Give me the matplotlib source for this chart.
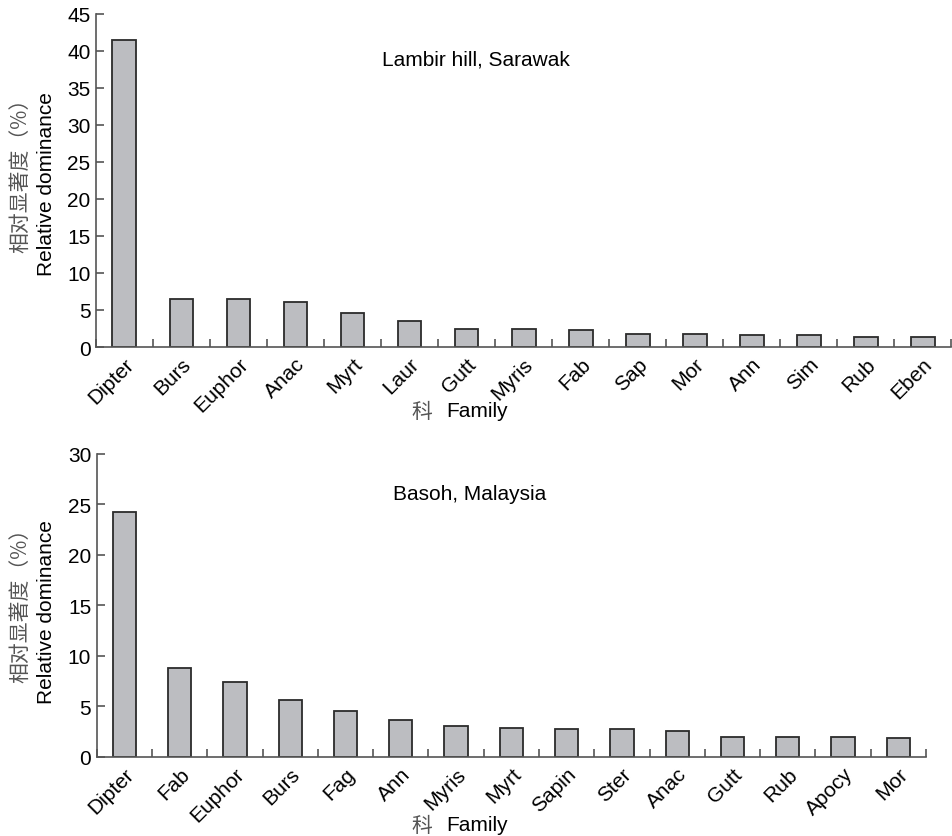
import matplotlib
matplotlib.use("Agg")
import matplotlib.pyplot as plt
import numpy as np

plt.rcParams['font.family'] = ['Liberation Sans', 'Noto Sans CJK SC']

# Lambir hill, Sarawak
lambir_families = ['Dipter', 'Burs', 'Euphor', 'Anac', 'Myrt', 'Laur', 'Gutt', 'Myris',
                   'Fab', 'Sap', 'Mor', 'Ann', 'Sim', 'Rub', 'Eben']
lambir_values = [41.5, 6.5, 6.5, 6.1, 4.6, 3.5, 2.4, 2.4, 2.25, 1.8, 1.8, 1.6, 1.6, 1.35, 1.35]

# Basoh, Malaysia
basoh_families = ['Dipter', 'Fab', 'Euphor', 'Burs', 'Fag', 'Ann', 'Myris', 'Myrt',
                  'Sapin', 'Ster', 'Anac', 'Gutt', 'Rub', 'Apocy', 'Mor']
basoh_values = [24.3, 8.85, 7.45, 5.65, 4.6, 3.65, 3.05, 2.9, 2.75, 2.75, 2.6, 2.0, 2.0, 2.0, 1.85]

BAR_FACE = '#bcbdc1'
BAR_EDGE = '#2b2b2b'
AXIS_COLOR = '#555555'
CJK_COLOR = '#555555'
FS = 15

fig = plt.figure(figsize=(9.53, 8.37), dpi=100)


def draw_panel(rect, families, values, ymax, title, title_pos):
    ax = fig.add_axes(rect)
    x = np.arange(len(families)) + 0.5
    ax.bar(x, values, width=0.42, color=BAR_FACE, edgecolor=BAR_EDGE, linewidth=1.3)
    ax.set_xlim(0, len(families))
    ax.set_ylim(0, ymax)
    ax.set_yticks(np.arange(0, ymax + 1, 5))
    ax.set_xticks(np.arange(0, len(families) + 1))
    ax.set_xticklabels([])
    ax.set_xticks(x, minor=True)
    ax.set_xticklabels(families, minor=True, rotation=45, ha='right', va='top',
                       rotation_mode='anchor', fontsize=FS)
    ax.tick_params(axis='x', which='minor', length=0, pad=5)
    ax.tick_params(axis='x', which='major', direction='in', length=6, width=1.2,
                   color=AXIS_COLOR)
    ax.tick_params(axis='y', direction='in', length=6, width=1.2, color=AXIS_COLOR,
                   labelsize=FS, pad=4)
    for side in ('top', 'right'):
        ax.spines[side].set_visible(False)
    for side in ('left', 'bottom'):
        ax.spines[side].set_color(AXIS_COLOR)
        ax.spines[side].set_linewidth(1.2)
    ax.text(title_pos[0], title_pos[1], title, transform=ax.transAxes,
            ha='center', va='center', fontsize=FS)
    return ax


draw_panel([0.1007, 0.5842, 0.8973, 0.3982], lambir_families, lambir_values, 45,
           'Lambir hill, Sarawak', (0.444, 0.864))
draw_panel([0.1015, 0.0944, 0.8702, 0.3620], basoh_families, basoh_values, 30,
           'Basoh, Malaysia', (0.45, 0.868))

# y labels (two lines: Chinese + English)
for y_cjk, y_en in ((170, 184), (600, 612)):
    fig.text(20 / 953, 1 - y_cjk / 837, '相对显著度（%）', rotation=90, ha='center',
             va='center', fontsize=FS, color=CJK_COLOR, family=['Noto Sans CJK SC'])
    fig.text(47 / 953, 1 - y_en / 837, 'Relative dominance', rotation=90, ha='center',
             va='center', fontsize=FS)

# x labels
for yc in (1 - 412 / 837, 1 - 826 / 837):
    fig.text(422 / 953, yc, '科', ha='center', va='center', fontsize=FS,
             color=CJK_COLOR, family=['Noto Sans CJK SC'])
    fig.text(446 / 953, yc, 'Family', ha='left', va='center', fontsize=FS)

fig.savefig('out.png', dpi=100)
